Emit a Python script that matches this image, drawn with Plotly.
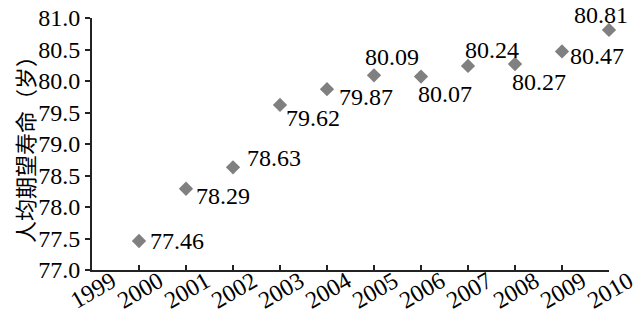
import plotly.graph_objects as go

years = [2000, 2001, 2002, 2003, 2004, 2005, 2006, 2007, 2008, 2009, 2010]
life_expectancy = [77.46, 78.29, 78.63, 79.62, 79.87, 80.09, 80.07, 80.24, 80.27, 80.47, 80.81]
x_tick_labels = ["1999", "2000", "2001", "2002", "2003", "2004", "2005", "2006", "2007", "2008", "2009", "2010"]
y_tick_values = [77.0, 77.5, 78.0, 78.5, 79.0, 79.5, 80.0, 80.5, 81.0]
y_title = "人均期望寿命（岁）"

# label offsets in pixels (dx right, dy down) -- styling only
label_offsets = [(38, 0), (37, 7), (41, -9), (33, 13), (39, 8), (18, -18),
                 (24, 17), (24, -16), (24, 18), (35, 5), (-8, -15)]

serif = "Liberation Serif"

fig = go.Figure()
fig.add_trace(go.Scatter(
    x=years, y=life_expectancy, mode="markers",
    marker=dict(symbol="diamond", size=11, color="#808080"),
    hoverinfo="skip", showlegend=False, cliponaxis=False,
))

for x, y, (dx, dy) in zip(years, life_expectancy, label_offsets):
    fig.add_annotation(
        x=x, y=y, text=f"{y:.2f}", showarrow=False,
        xanchor="center", yanchor="middle", xshift=dx, yshift=-dy,
        font=dict(family=serif, size=24, color="black"),
    )

tick_vals_x = [int(t) for t in x_tick_labels]
fig.update_xaxes(
    range=[1999, 2010], tickmode="array", tickvals=tick_vals_x, ticktext=x_tick_labels,
    tickangle=-30, ticks="inside", ticklen=5, tickwidth=1.5, tickcolor="#222",
    showline=True, linecolor="#222", linewidth=2, showgrid=False, zeroline=False,
    tickfont=dict(family=serif, size=24, color="black"),
    ticklabelshift=20, ticklabelstandoff=-14, ticklabeloverflow="allow", automargin=False,
)
fig.update_yaxes(
    range=[77.0, 81.0], tickmode="array", tickvals=y_tick_values,
    ticktext=[f"{v:.1f}" for v in y_tick_values],
    ticks="outside", ticklen=5, tickwidth=1.5, tickcolor="#222",
    showline=True, linecolor="#222", linewidth=2, showgrid=False, zeroline=False,
    tickfont=dict(family=serif, size=24, color="black"),
    ticklabeloverflow="allow",
    title=dict(text=y_title, font=dict(family="Noto Sans CJK SC", size=22, color="black"), standoff=2),
    automargin=False,
)
fig.update_layout(
    width=635, height=307,
    margin=dict(l=84, r=34, t=10, b=45),
    plot_bgcolor="white", paper_bgcolor="white",
)
fig.write_html("out.html")
